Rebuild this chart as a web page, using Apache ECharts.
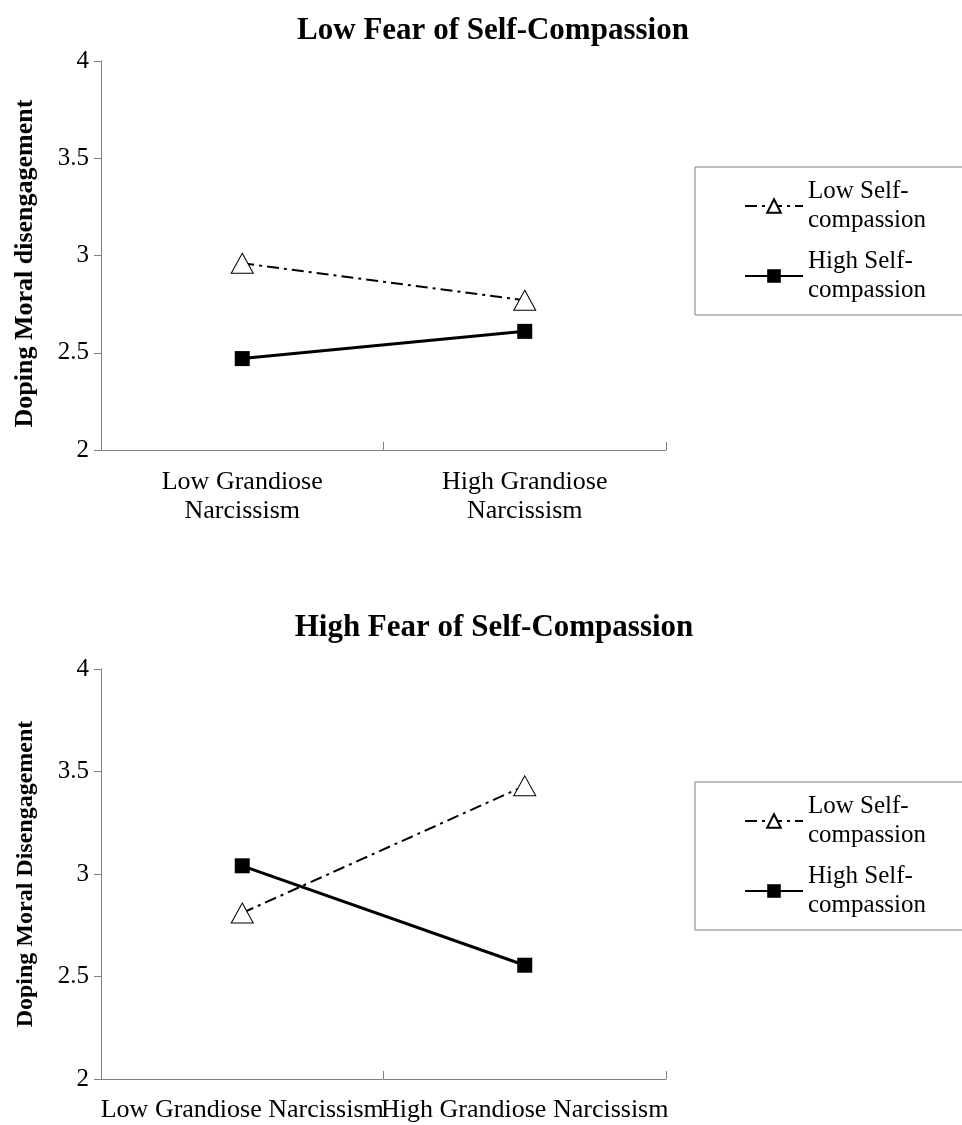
<!DOCTYPE html>
<html>
<head>
<meta charset="utf-8">
<script src="https://cdn.jsdelivr.net/npm/echarts@6/dist/echarts.min.js"></script>
<style>
  html, body { margin: 0; padding: 0; background: #fff; }
  #chart { width: 962px; height: 1125px; }
</style>
</head>
<body>
<div id="chart"></div>
<script>
// ---- data ----
const categoriesTop = ['Low Grandiose\nNarcissism', 'High Grandiose\nNarcissism'];
const categoriesBottom = ['Low Grandiose Narcissism', 'High Grandiose Narcissism'];
const seriesNames = ['Low Self-compassion', 'High Self-compassion'];
const lowFearLowSC = [2.96, 2.77];
const lowFearHighSC = [2.47, 2.61];
const highFearLowSC = [2.81, 3.43];
const highFearHighSC = [3.04, 2.555];
const titles = ['Low Fear of Self-Compassion', 'High Fear of Self-Compassion'];
const yNames = ['Doping Moral disengagement', 'Doping Moral Disengagement'];
const yMin = 2, yMax = 4, yStep = 0.5;

// ---- styling ----
const FONT = '"Liberation Serif", "Times New Roman", serif';
const AXIS_GRAY = '#808080';

function yAxisFor(gridIndex, name, nameSize, namePad) {
  return {
    type: 'value', gridIndex: gridIndex, min: yMin, max: yMax, interval: yStep,
    name: name, nameLocation: 'middle', nameRotate: 90, nameGap: 63,
    nameTextStyle: { fontFamily: FONT, fontWeight: 'bold', fontSize: nameSize, color: '#000', padding: namePad },
    axisLine: { show: true, lineStyle: { color: AXIS_GRAY, width: 1 } },
    axisTick: { show: true, inside: false, length: 7, lineStyle: { color: AXIS_GRAY } },
    axisLabel: { fontFamily: FONT, fontSize: 25, color: '#000', margin: 12 },
    splitLine: { show: false }
  };
}
function xAxisFor(gridIndex, cats, margin) {
  return {
    type: 'category', gridIndex: gridIndex, data: cats, boundaryGap: true,
    axisLine: { show: true, lineStyle: { color: AXIS_GRAY, width: 1 } },
    axisTick: { show: true, inside: true, length: 8, lineStyle: { color: AXIS_GRAY } },
    axisLabel: { fontFamily: FONT, fontSize: 26, color: '#000', margin: margin, lineHeight: 29, interval: 0 },
    splitLine: { show: false }
  };
}
function lowSeries(idx, data) {
  return {
    name: seriesNames[0], type: 'line', xAxisIndex: idx, yAxisIndex: idx, data: data,
    symbol: 'triangle', symbolSize: [22, 20],
    lineStyle: { color: '#000', width: 2, type: [12, 5, 3, 5] },
    itemStyle: { color: '#fff', borderColor: '#000', borderWidth: 1 },
    z: 3
  };
}
function highSeries(idx, data) {
  return {
    name: seriesNames[1], type: 'line', xAxisIndex: idx, yAxisIndex: idx, data: data,
    symbol: 'rect', symbolSize: 15,
    lineStyle: { color: '#000', width: 3, type: 'solid' },
    itemStyle: { color: '#000', borderColor: '#000', borderWidth: 0 },
    z: 2
  };
}
function legendFor(top) {
  return {
    show: true, orient: 'vertical', left: 695, top: top,
    data: seriesNames, selectedMode: false,
    itemWidth: 58, itemHeight: 17, itemGap: 16,
    padding: [12, 60, 12, 49],
    borderColor: AXIS_GRAY, borderWidth: 1,
    formatter: function (n) { return n.replace('-', '-\n'); },
    textStyle: { fontFamily: FONT, fontSize: 25, lineHeight: 29, color: '#000', padding: [-29, 0, 0, 0] }
  };
}

const option = {
  animation: false,
  backgroundColor: '#fff',
  title: [
    { text: titles[0], left: 488, top: 10, textAlign: 'center',
      textStyle: { fontFamily: FONT, fontWeight: 'bold', fontSize: 31, color: '#000' } },
    { text: titles[1], left: 489, top: 607, textAlign: 'center',
      textStyle: { fontFamily: FONT, fontWeight: 'bold', fontSize: 31, color: '#000' } }
  ],
  legend: [legendFor(167), legendFor(782)],
  grid: [
    { left: 101, top: 61, width: 565, height: 389 },
    { left: 101, top: 669, width: 565, height: 410 }
  ],
  xAxis: [xAxisFor(0, categoriesTop, 18), xAxisFor(1, categoriesBottom, 17)],
  yAxis: [yAxisFor(0, yNames[0], 26, [0, 16, 0, 0]), yAxisFor(1, yNames[1], 24, 0)],
  series: [
    lowSeries(0, lowFearLowSC), highSeries(0, lowFearHighSC),
    lowSeries(1, highFearLowSC), highSeries(1, highFearHighSC)
  ]
};

const chart = echarts.init(document.getElementById('chart'), null, { renderer: 'canvas' });
chart.setOption(option);
</script>
</body>
</html>
